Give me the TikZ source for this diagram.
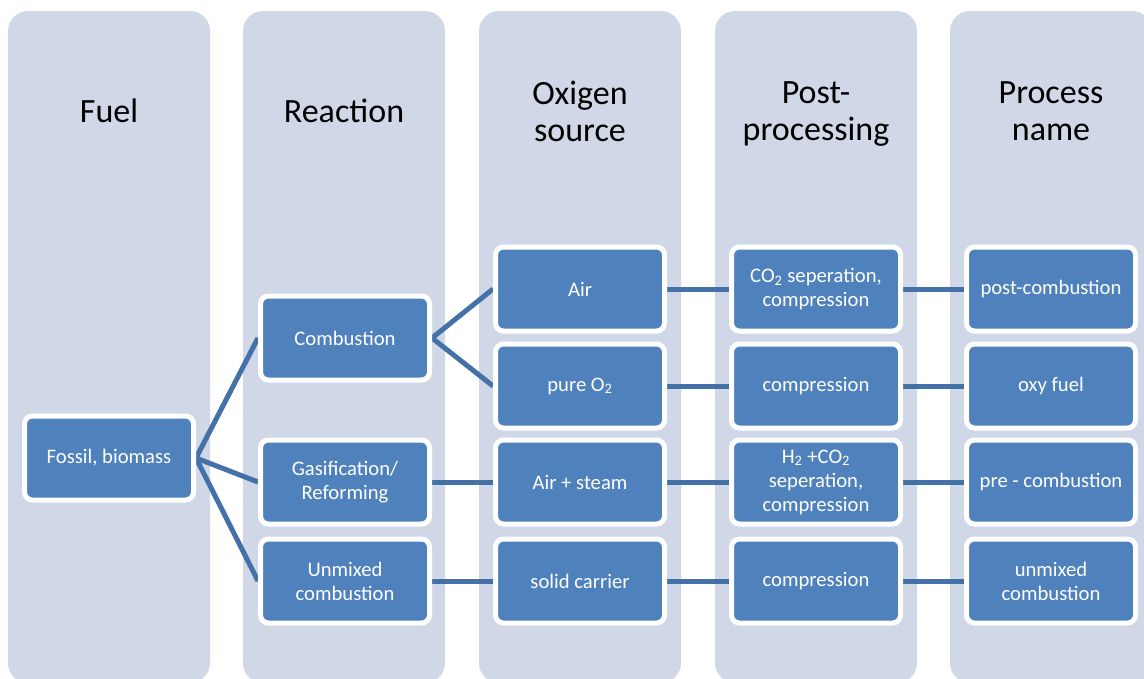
\documentclass[tikz,border=0pt]{standalone}
\usepackage{fontspec}
\setmainfont{Carlito}
\usepackage{xcolor}
\usepackage{tikz}
\usetikzlibrary{backgrounds}
\definecolor{laneGrey}{RGB}{208, 216, 232}
\definecolor{stageBlue}{RGB}{79, 129, 189}
\definecolor{linkBlue}{RGB}{68, 114, 168}

\tikzset{
  lane/.style={fill=laneGrey, rounded corners=15pt},
  heading/.style={align=center, text depth=6pt, font=\fontsize{25.5}{27.75}\selectfont},
  stage/.style={draw=white, line width=3.75pt, fill=stageBlue, rounded corners=6pt,
    text=white, align=center, minimum width=126.75pt, minimum height=63pt,
    inner sep=2pt, font=\fontsize{15.5}{18}\selectfont},
  link/.style={draw=linkBlue, line width=3.75pt}
}

\begin{document}
\begin{tikzpicture}[x=0.75pt, y=-0.75pt]
\useasboundingbox (0,0) rectangle (1144,678);

% Swim lanes and their headings
\begin{scope}[on background layer]
\foreach \lx/\name/\title in {8/fuel/Fuel, 243/reaction/Reaction, 479/oxygen/Oxigen\\source,
    715/post/Post-\\processing, 950/process/Process\\name} {
    \fill[lane] (\lx,11) rectangle ++(202,672);
    \node[heading] (h-\name) at (\lx+101,115) {\title};
}
\end{scope}

% Fuel
\node[stage] (fossil) at (109,458) {Fossil, biomass};

% Reaction
\node[stage] (comb) at (345,338) {Combustion};
\node[stage] (gasif) at (345,482) {Gasification/\\Reforming};
\node[stage] (unmixed) at (345,581) {Unmixed\\combustion};

% Oxygen source
\node[stage] (air) at (580,289) {Air};
\node[stage] (pureo) at (580,386) {pure O\textsubscript{2}};
\node[stage] (steam) at (580,482) {Air + steam};
\node[stage] (carrier) at (580,581) {solid carrier};

% Post-processing
\node[stage] (cosep) at (816,289) {CO\textsubscript{2} seperation,\\compression};
\node[stage] (compo) at (816,386) {compression};
\node[stage] (hcsep) at (816,482) {H\textsubscript{2} +CO\textsubscript{2}\\seperation,\\compression};
\node[stage] (compc) at (816,581) {compression};

% Process name
\node[stage] (postc) at (1051,289) {post-combustion};
\node[stage] (oxyf) at (1051,386) {oxy fuel};
\node[stage] (prec) at (1051,482) {pre - combustion};
\node[stage] (unmixc) at (1051,581) {unmixed\\combustion};

% Links, kept under the white box borders
\begin{scope}[on background layer]
\foreach \a/\b in {comb/air, comb/pureo, gasif/steam, unmixed/carrier,
    air/cosep, pureo/compo, steam/hcsep, carrier/compc,
    cosep/postc, compo/oxyf, hcsep/prec, compc/unmixc} {
    \draw[link] (\a.east) -- (\b.west);
}
\foreach \b in {comb, gasif, unmixed}
    \draw[link] (fossil.east) -- (\b.west);
\end{scope}
\end{tikzpicture}
\end{document}
